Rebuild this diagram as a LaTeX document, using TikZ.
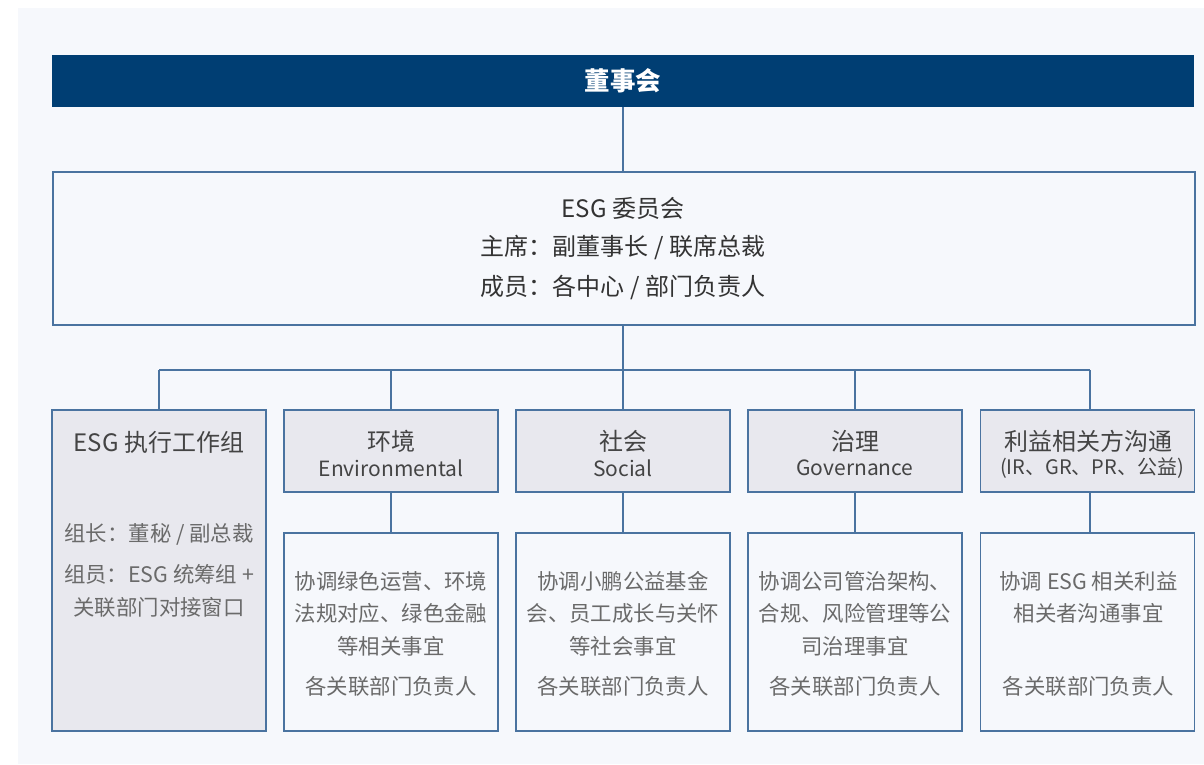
\documentclass[tikz,border=0pt]{standalone}
\usepackage{fontspec}
\setmainfont{Noto Sans CJK SC}
\definecolor{navy}{HTML}{003E73}
\definecolor{edge}{HTML}{4A73A0}
\definecolor{bgc}{HTML}{F6F8FC}
\definecolor{hdr}{HTML}{E8E8EE}
\definecolor{txtdark}{HTML}{333333}
\definecolor{txtmid}{HTML}{444444}
\definecolor{txtgray}{HTML}{6A6A6A}
\tikzset{
  box/.style={rectangle, draw=edge, line width=1.5pt, inner sep=0pt, minimum width=214pt},
  hbox/.style={box, fill=hdr},
  bbox/.style={box, fill=bgc},
  conn/.style={draw=edge, line width=1.5pt},
  ttl/.style={text=txtmid, font=\fontsize{24}{28}\selectfont, inner sep=0pt},
  sub/.style={text=txtmid, font=\fontsize{21}{25}\selectfont, inner sep=0pt},
  body/.style={text=txtgray, font=\fontsize{21.4}{25}\selectfont, inner sep=0pt},
  ctxt/.style={text=txtdark, font=\fontsize{24}{28}\selectfont, inner sep=0pt}
}
\begin{document}
\begin{tikzpicture}[x=1pt,y=-1pt]
\useasboundingbox (0,0) rectangle (1204,764);
\fill[white] (0,0) rectangle (1204,764);
\fill[bgc] (18,8) rectangle (1204,764);

% board
\node[rectangle, fill=navy, inner sep=0pt, minimum width=1142pt, minimum height=52pt] (board) at (623,81) {};
\node[text=white, font=\fontsize{25.5}{30}\selectfont\bfseries, inner sep=0pt] (boardt) at (623,81) {董事会};

% committee
\node[box, fill=bgc, minimum width=1142pt, minimum height=153pt] (comm) at (624,248.5) {};
\node[ctxt] (c1) at (623,208) {ESG 委员会};
\node[ctxt] (c2) at (623,247) {主席：副董事长 / 联席总裁};
\node[ctxt] (c3) at (623,287) {成员：各中心 / 部门负责人};

% first-level boxes
\node[hbox, minimum height=321pt] (exec) at (159,570.5) {};
\node[hbox, minimum height=82pt] (env) at (391,451) {};
\node[hbox, minimum height=82pt] (soc) at (623,451) {};
\node[hbox, minimum height=82pt] (gov) at (855,451) {};
\node[hbox, minimum height=82pt] (stake) at (1087.5,451) {};

% second-level boxes
\node[bbox, minimum height=198pt] (envb) at (391,632) {};
\node[bbox, minimum height=198pt] (socb) at (623,632) {};
\node[bbox, minimum height=198pt] (govb) at (855,632) {};
\node[bbox, minimum height=198pt] (stakeb) at (1087.5,632) {};

% connectors
\coordinate (bus) at (623,370);
\coordinate (sx) at (1090,451);
\draw[conn] (board.south) -- (board.south |- comm.north);
\draw[conn] (comm.south -| bus) -- (bus);
\draw[conn] (exec.north |- bus) -- (sx |- bus);
\foreach \n in {exec,env,soc,gov} \draw[conn] (\n.north |- bus) -- (\n.north);
\draw[conn] (sx |- bus) -- (sx |- stake.north);
\foreach \n in {env,soc,gov} \draw[conn] (\n.south) -- (\n b.north);
\draw[conn] (sx |- stake.south) -- (sx |- stakeb.north);

% exec texts
\node[ttl] (e1) at (159,442) {ESG 执行工作组};
\node[body] (e2) at (159,534) {组长：董秘 / 副总裁};
\node[body] (e3) at (159,574) {组员：ESG 统筹组 +};
\node[body] (e4) at (159,607) {关联部门对接窗口};

% header texts
\node[ttl] (h1) at (391,441) {环境};
\node[sub] (h1s) at (391,468) {Environmental};
\node[ttl] (h2) at (623,441) {社会};
\node[sub] (h2s) at (623,468) {Social};
\node[ttl] (h3) at (855,441) {治理};
\node[sub] (h3s) at (855,468) {Governance};
\node[ttl] (h4) at (1088.5,441) {利益相关方沟通};
\node[sub, font=\fontsize{20}{24}\selectfont] (h4s) at (1092,468) {(IR、GR、PR、公益)};

% body texts
\node[body] (b11) at (391,581) {协调绿色运营、环境};
\node[body] (b12) at (391,613) {法规对应、绿色金融};
\node[body] (b13) at (391,646) {等相关事宜};
\node[body] (b14) at (391,686) {各关联部门负责人};

\node[body] (b21) at (623,581) {协调小鹏公益基金};
\node[body] (b22) at (623,613) {会、员工成长与关怀};
\node[body] (b23) at (623,646) {等社会事宜};
\node[body] (b24) at (623,686) {各关联部门负责人};

\node[body] (b31) at (855,581) {协调公司管治架构、};
\node[body] (b32) at (855,613) {合规、风险管理等公};
\node[body] (b33) at (855,646) {司治理事宜};
\node[body] (b34) at (855,686) {各关联部门负责人};

\node[body] (b41) at (1088.5,581) {协调 ESG 相关利益};
\node[body] (b42) at (1088.5,613) {相关者沟通事宜};
\node[body] (b44) at (1088.5,686) {各关联部门负责人};
\end{tikzpicture}
\end{document}
